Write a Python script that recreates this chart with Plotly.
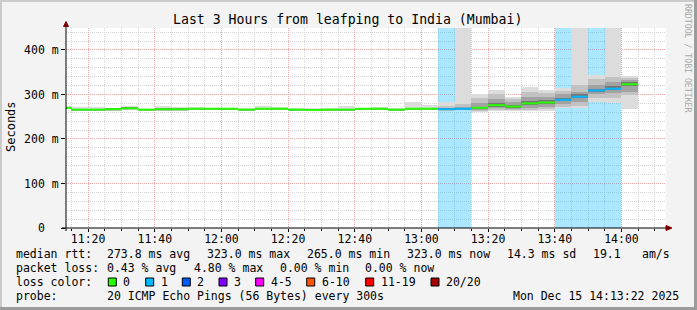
import pandas as pd
import plotly.graph_objects as go

DAY = "2025-12-15 "
# interval end times (5-minute steps)
end_times = ["11:15", "11:20", "11:25", "11:30", "11:35", "11:40", "11:45", "11:50", "11:55",
             "12:00", "12:05", "12:10", "12:15", "12:20", "12:25", "12:30", "12:35", "12:40",
             "12:45", "12:50", "12:55", "13:00", "13:05", "13:10", "13:15", "13:20", "13:25",
             "13:30", "13:35", "13:40", "13:45", "13:50", "13:55", "14:00", "14:05"]
# median rtt in ms
median = [270, 266, 266, 267, 269, 266, 267, 267, 268, 268, 268, 266, 268, 268, 266, 265, 266, 266,
          268, 268, 266, 268, 268, 267, 268, 270, 276, 273, 280, 282, 288, 295, 309, 313, 323]
# lost pings out of 20
loss = [0, 0, 0, 0, 0, 0, 0, 0, 0, 0, 0, 0, 0, 0, 0, 0, 0, 0,
        0, 0, 0, 0, 0, 1, 1, 0, 0, 0, 0, 0, 1, 1, 1, 1, 0]
# smoke distribution (ms)
smoke_min = [268, 263, 264, 264, 266, 264, 265, 265, 265, 266, 266, 263, 265, 266, 264, 263, 264, 264,
             266, 266, 264, 265, 265, 263, 265, 261, 262, 263, 262, 264, 269, 269, 284, 280, 268]
smoke_p10 = [268, 264, 264, 265, 267, 264, 265, 265, 266, 266, 266, 264, 266, 266, 264, 263, 264, 264,
             266, 266, 264, 266, 266, 264, 266, 264, 266, 265, 266, 268, 273, 275, 292, 292, 299]
smoke_p25 = [269, 265, 265, 266, 268, 265, 266, 266, 267, 267, 267, 265, 267, 267, 265, 264, 265, 265,
             267, 267, 265, 267, 267, 265, 266, 266, 269, 267, 270, 273, 278, 284, 301, 303, 306]
smoke_p40 = [270, 266, 266, 267, 269, 266, 267, 267, 268, 268, 268, 266, 268, 268, 266, 265, 266, 266,
             268, 268, 266, 268, 268, 266, 267, 268, 273, 270, 276, 279, 285, 292, 305, 309, 318]
smoke_p60 = [271, 267, 267, 268, 270, 267, 268, 268, 269, 269, 269, 267, 269, 269, 267, 266, 267, 267,
             269, 269, 267, 269, 269, 268, 269, 273, 280, 276, 285, 287, 292, 300, 313, 318, 327]
smoke_p75 = [271, 267, 267, 268, 270, 267, 268, 268, 269, 269, 269, 267, 269, 269, 267, 266, 267, 267,
             269, 269, 267, 269, 269, 270, 273, 282, 290, 283, 295, 295, 300, 306, 321, 329, 332]
smoke_p90 = [272, 268, 268, 269, 271, 268, 269, 269, 270, 270, 270, 268, 270, 270, 268, 267, 268, 268,
             270, 270, 268, 270, 270, 274, 278, 293, 300, 289, 306, 303, 307, 322, 334, 340, 338]
smoke_max = [274, 272, 272, 270, 274, 268, 274, 272, 271, 270, 270, 270, 275, 271, 269, 269, 269, 274,
             270, 272, 270, 284, 277, 284, 600, 302, 311, 295, 317, 311, 314, 600, 344, 600, 341]

loss_levels = ["0", "1", "2", "3", "4-5", "6-10", "11-19", "20/20"]
loss_colors = ["#26ff00", "#00b8ff", "#0059ff", "#7e00ff", "#ff00ff", "#ff5500", "#ff0000", "#a10000"]

y_ticks = [0, 100, 200, 300, 400]
y_ticktext = ["0\u00a0\u00a0", "100 m", "200 m", "300 m", "400 m"]

stats_rtt = ["median rtt:", "273.8 ms avg", "323.0 ms max", "265.0 ms min", "323.0 ms now",
             "14.3 ms sd", "19.1", "am/s"]
stats_loss = ["packet loss:", "0.43 % avg", "4.80 % max", "0.00 % min", "0.00 % now"]
probe_text = ["probe:", "20 ICMP Echo Pings (56 Bytes) every 300s", "Mon Dec 15 14:13:22 2025"]
title_text = "Last 3 Hours from leafping to India (Mumbai)"

# ---------------------------------------------------------------------------
W, H = 697, 310
L, R, T, B = 66, 31, 28, 82
PW, PH = W - L - R, H - T - B
YMAX = 449.4
FONT = "DejaVu Sans Mono"
STEP_MS = 300000


def fx(px):
    return (px - L) / PW


def fy(py):
    return (H - B - py) / PH


t_end = pd.to_datetime([DAY + t for t in end_times])
t_start = t_end - pd.Timedelta(seconds=300)

fig = go.Figure()

# loss background
loss_x = [t for t, l in zip(t_end, loss) if l > 0]
fig.add_trace(go.Bar(x=loss_x, y=[YMAX * 3] * len(loss_x), base=0, width=STEP_MS, offset=-STEP_MS,
                     marker=dict(color="rgba(0,184,255,0.33)", line=dict(width=0)),
                     hoverinfo="skip", showlegend=False))

bands = [(smoke_min, smoke_max, "#dcdcdc"),
         (smoke_p10, smoke_p90, "#c2c2c2"),
         (smoke_p25, smoke_p75, "#a2a2a2"),
         (smoke_p40, smoke_p60, "#767676")]
for lo, hi, col in bands:
    fig.add_trace(go.Bar(x=t_end, y=[h - l for l, h in zip(lo, hi)], base=lo, width=STEP_MS,
                         offset=-STEP_MS, marker=dict(color=col, line=dict(width=0)),
                         hoverinfo="skip", showlegend=False))

# median lines coloured by loss
for lvl in sorted(set(loss)):
    xs, ys = [], []
    for s, e, m, l in zip(t_start, t_end, median, loss):
        if l == lvl:
            xs += [s, e, None]
            ys += [m, m, None]
    fig.add_trace(go.Scatter(x=xs, y=ys, mode="lines", line=dict(color=loss_colors[lvl], width=2),
                             hoverinfo="skip", showlegend=False, connectgaps=False))

grid_major = "#f0a8a8"
grid_minor = "#d4d4d4"
fig.update_layout(
    width=W, height=H, autosize=False,
    margin=dict(l=L, r=R, t=T, b=B, pad=0),
    paper_bgcolor="#f3f3f3", plot_bgcolor="#ffffff",
    barmode="overlay", bargap=0,
    font=dict(family=FONT, size=11.5, color="#000000"),
    xaxis=dict(type="date", range=[DAY + "11:13:22", DAY + "14:13:22"],
               tick0=DAY + "11:00", dtick=20 * 60 * 1000, tickformat="%H:%M",
               showgrid=True, gridcolor=grid_major, griddash="1px,1px", gridwidth=1,
               ticks="outside", ticklen=3, tickcolor="#000", showline=False, zeroline=False,
               ticklabelstandoff=-3,
               tickfont=dict(family=FONT, size=11.5, color="#000"),
               minor=dict(dtick=5 * 60 * 1000, tick0=DAY + "11:00", showgrid=True,
                          gridcolor=grid_minor, griddash="1px,1px", ticks="outside",
                          ticklen=2, tickcolor="#000"),
               fixedrange=True),
    yaxis=dict(range=[0, YMAX], tickmode="array", tickvals=y_ticks, ticktext=y_ticktext,
               showgrid=True, gridcolor=grid_major, griddash="1px,1px", gridwidth=1,
               ticks="outside", ticklen=4, tickcolor="#000", showline=False, zeroline=False,
               tickfont=dict(family=FONT, size=11.5, color="#000"),
               minor=dict(tickmode="linear", tick0=0, dtick=20, showgrid=True,
                          gridcolor=grid_minor, griddash="1px,1px"),
               fixedrange=True),
)

shapes = []
# window border (3D shade)
shapes.append(dict(type="rect", xref="paper", yref="paper", x0=fx(0), x1=fx(W), y0=fy(0), y1=fy(2),
                   fillcolor="#cbcbcb", line=dict(width=0), layer="above"))
shapes.append(dict(type="rect", xref="paper", yref="paper", x0=fx(0), x1=fx(2), y0=fy(0), y1=fy(H),
                   fillcolor="#cbcbcb", line=dict(width=0), layer="above"))
shapes.append(dict(type="rect", xref="paper", yref="paper", x0=fx(W - 3), x1=fx(W), y0=fy(0), y1=fy(H),
                   fillcolor="#9b9b9b", line=dict(width=0), layer="above"))
shapes.append(dict(type="rect", xref="paper", yref="paper", x0=fx(0), x1=fx(W), y0=fy(H - 3), y1=fy(H),
                   fillcolor="#9b9b9b", line=dict(width=0), layer="above"))
# axes with arrows
shapes.append(dict(type="line", xref="paper", yref="paper", x0=fx(62), x1=fx(668), y0=0, y1=0,
                   line=dict(color="#000", width=1), layer="above"))
shapes.append(dict(type="line", xref="paper", yref="paper", x0=0, x1=0, y0=fy(231), y1=fy(24),
                   line=dict(color="#000", width=1), layer="above"))
shapes.append(dict(type="path", xref="paper", yref="paper",
                   path=f"M {fx(666)} {fy(225.5)} L {fx(672)} {fy(228)} L {fx(666)} {fy(230.5)} Z",
                   fillcolor="#7f0000", line=dict(color="#7f0000", width=1), layer="above"))
shapes.append(dict(type="path", xref="paper", yref="paper",
                   path=f"M {fx(63.5)} {fy(26.5)} L {fx(66)} {fy(21.5)} L {fx(68.5)} {fy(26.5)} Z",
                   fillcolor="#7f0000", line=dict(color="#7f0000", width=1), layer="above"))

annotations = []


def txt(text, px, py, size=11.5, anchor="left", color="#000", angle=0):
    annotations.append(dict(text=text, x=fx(px), y=fy(py), xref="paper", yref="paper",
                            xanchor=anchor, yanchor="middle", showarrow=False, textangle=angle,
                            borderpad=0, borderwidth=0,
                            font=dict(family=FONT, size=size, color=color)))


txt(title_text, 347.5, 19, size=13.2, anchor="center")
txt("Seconds", 11, 127, size=12, anchor="center", angle=-90)
txt("RRDTOOL / TOBI OETIKER", 687.5, 58.5, size=8.2, anchor="center", color="#a8a8a8", angle=90)

rtt_x = [16, 107.3, 207.3, 307.3, 407.3, 507.3, 593.3, 642]
for s, x in zip(stats_rtt, rtt_x):
    txt(s, x, 254.3)
loss_x_pos = [16, 107.3, 193.6, 279.6, 365]
for s, x in zip(stats_loss, loss_x_pos):
    txt(s, x, 268.3)
txt("loss color:", 16, 282.3)
sq_x = [108.3, 145.7, 182.3, 219, 255.7, 306.7, 365.7, 431]
for lbl, col, x in zip(loss_levels, loss_colors, sq_x):
    shapes.append(dict(type="rect", xref="paper", yref="paper", x0=fx(x), x1=fx(x + 8),
                       y0=fy(278), y1=fy(286), fillcolor=col,
                       line=dict(color="#000", width=1), layer="above"))
    txt(lbl, x + 15, 282.3)
probe_x = [16, 107.3, 513.3]
for s, x in zip(probe_text, probe_x):
    txt(s, x, 295.7)

fig.update_layout(shapes=shapes, annotations=annotations)
fig.write_html("out.html")
